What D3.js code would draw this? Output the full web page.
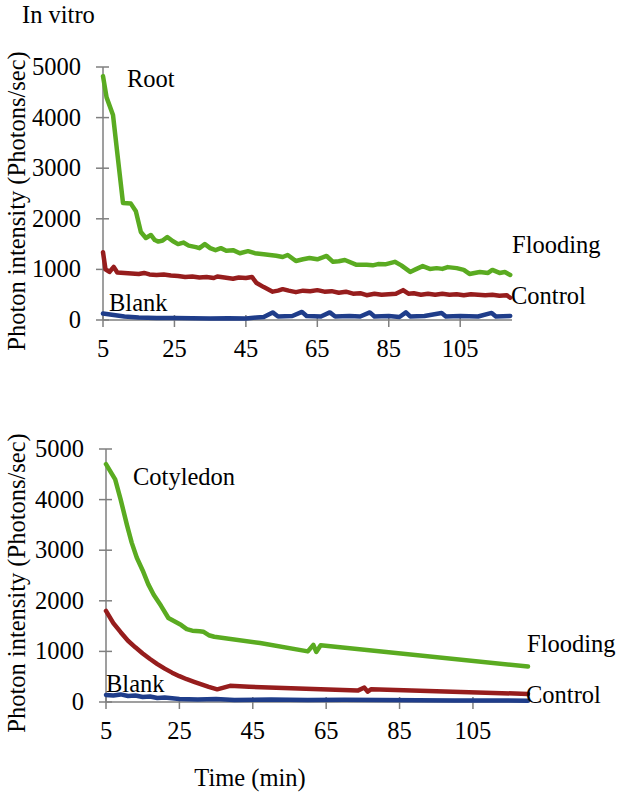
<!DOCTYPE html>
<html>
<head>
<meta charset="utf-8">
<script src="https://cdn.jsdelivr.net/npm/d3@7"></script>
<style>
  html, body { margin: 0; padding: 0; background: #fff; }
</style>
</head>
<body>
<svg id="chart" width="623" height="797"></svg>
<script>
// ---------- DATA ----------
const xTicks = [5, 25, 45, 65, 85, 105];
const yTicks = [0, 1000, 2000, 3000, 4000, 5000];
const seriesNames = ["Flooding", "Control", "Blank"];

// Root panel: [time (min), photons/sec]
const rootFlooding = [[5,4820],[6,4400],[7.8,4050],[9,3300],[10.6,2310],[12.8,2300],[14.2,2150],[15.6,1740],[17,1620],[18.4,1680],[19.5,1580],[20.5,1550],[21.7,1570],[23,1640],[24.5,1560],[26,1500],[27.5,1530],[29,1470],[31,1440],[32,1420],[33.5,1500],[35,1420],[36.5,1380],[38,1420],[39.5,1370],[41.4,1380],[43.3,1320],[45.6,1360],[47.5,1320],[50,1300],[51.7,1285],[53.5,1270],[55.3,1245],[56.7,1285],[59,1165],[61,1200],[62.8,1225],[65,1200],[67.6,1265],[69.4,1150],[71,1160],[72.7,1185],[76,1090],[78.8,1090],[80.5,1080],[82,1105],[84,1100],[86.7,1150],[88.5,1080],[91,950],[92.5,1000],[94.5,1065],[96.5,1010],[98.4,1025],[100,1010],[101.5,1045],[104,1025],[106,990],[107.6,910],[109,930],[110.5,950],[112.8,930],[114,990],[116,930],[117.5,950],[119,890]];
const rootControl = [[5,1340],[5.7,1000],[6.8,950],[8,1050],[9,940],[11,930],[13,920],[15,910],[16.5,930],[18,900],[20,890],[22,900],[24,880],[26,870],[28,850],[30,860],[32,840],[34,850],[36,830],[37,860],[39,840],[41.4,815],[43,840],[45,830],[46.7,850],[48,730],[50,650],[52.5,560],[54,580],[55.3,610],[57,580],[59,550],[61,580],[63,570],[65,590],[67,560],[69,570],[71,540],[73,560],[75,520],[77,530],[78.8,490],[81,520],[83,500],[85,510],[87,520],[89,590],[90.5,520],[92,530],[94,500],[96,520],[98,500],[100,520],[102,500],[104,510],[106,490],[108,510],[110,500],[112,490],[114,500],[116,480],[118,490],[119,440]];
const rootBlank = [[5,130],[7,110],[9,90],[11,70],[13,60],[15,50],[20,40],[25,40],[30,35],[35,30],[40,35],[45,30],[48,50],[50,60],[52.5,150],[54,70],[58,80],[60.7,160],[62,80],[66,70],[68.5,150],[70,70],[74,80],[77,70],[79.7,150],[81,70],[85,80],[88,60],[89.8,150],[91,70],[95,80],[99.8,140],[101,70],[105,80],[110,70],[113.8,140],[115,70],[119,80]];

// Cotyledon panel
const cotFlooding = [[5,4700],[7.5,4400],[9,4000],[10.7,3500],[12,3150],[13.4,2850],[15,2600],[16.5,2330],[18,2120],[20,1900],[22,1660],[24,1580],[25.5,1520],[27,1440],[28.5,1410],[30.5,1400],[31.5,1390],[33,1320],[34.5,1290],[47,1165],[60,1000],[61.5,1130],[62.3,990],[63.5,1120],[120,700]];
const cotControl = [[5,1800],[7,1560],[9,1380],[11,1210],[13,1080],[15,960],[17,850],[19,750],[21,660],[23,580],[25,510],[27,450],[29,400],[31,350],[33,300],[35.3,250],[38.8,320],[44,300],[73.6,225],[75.4,285],[76.3,205],[77.2,250],[120,160]];
const cotBlank = [[5,140],[7,130],[9,150],[11,120],[13,130],[15,100],[17,110],[19,80],[21,90],[25,60],[30,50],[35,60],[40,40],[50,50],[60,40],[70,45],[80,40],[90,35],[100,30],[110,30],[120,25]];

const colors = { Flooding: "#5aab21", Control: "#961d1d", Blank: "#1f3d8a" };

// ---------- DRAW ----------
const svg = d3.select("#chart");
const FONT = 24.5;
const FAM = "Liberation Serif";

function addText(parent, x, y, s, anchor) {
  return parent.append("text").attr("x", x).attr("y", y)
    .attr("font-size", FONT).attr("font-family", FAM)
    .attr("text-anchor", anchor || "start").attr("fill", "#000").text(s);
}

addText(svg, 22, 23, "In vitro");

function panel(cfg) {
  const x = d3.scaleLinear().domain(cfg.xDomain).range([cfg.left, cfg.right]);
  const y = d3.scaleLinear().domain([0, 5000]).range([cfg.bottom, cfg.top]);
  const g = svg.append("g");

  // axis lines
  g.append("line").attr("x1", cfg.left).attr("x2", cfg.left)
    .attr("y1", y(5000)).attr("y2", y(0)).attr("stroke", "#7f7f7f").attr("stroke-width", 1.5);
  g.append("line").attr("x1", cfg.left).attr("x2", cfg.right)
    .attr("y1", y(0)).attr("y2", y(0)).attr("stroke", "#7f7f7f").attr("stroke-width", 1.5);

  // y ticks (crossing) + labels
  yTicks.forEach(v => {
    g.append("line").attr("x1", cfg.left - 7).attr("x2", cfg.left + 6)
      .attr("y1", y(v)).attr("y2", y(v)).attr("stroke", "#7f7f7f").attr("stroke-width", 1.5);
    addText(g, cfg.left - 22, y(v) + 8, String(v), "end");
  });

  // x ticks + labels
  xTicks.forEach(v => {
    g.append("line").attr("x1", x(v)).attr("x2", x(v))
      .attr("y1", cfg.bottom - 5).attr("y2", cfg.bottom + 7)
      .attr("stroke", "#7f7f7f").attr("stroke-width", 1.5);
    addText(g, x(v), cfg.bottom + 37, String(v), "middle");
  });

  // y title
  addText(g, 0, 0, "Photon intensity (Photons/sec)", "middle")
    .attr("transform", `translate(25,${cfg.titleY}) rotate(-90)`);

  // lines
  const line = d3.line().x(d => x(d[0])).y(d => y(d[1]));
  [2, 1, 0].forEach(i => {
    g.append("path").datum(cfg.series[i]).attr("d", line)
      .attr("fill", "none").attr("stroke", colors[seriesNames[i]])
      .attr("stroke-width", 4.5).attr("stroke-linejoin", "round").attr("stroke-linecap", "round");
  });

  // labels
  cfg.labels.forEach(l => addText(g, l.x, l.y, l.t));
}

panel({
  xDomain: [5, 119.5], left: 103, right: 512, top: 67, bottom: 320, titleY: 201,
  series: [rootFlooding, rootControl, rootBlank],
  labels: [
    { t: "Root", x: 127, y: 87 },
    { t: "Flooding", x: 512, y: 253 },
    { t: "Control", x: 511, y: 304 },
    { t: "Blank", x: 109, y: 311 }
  ]
});

panel({
  xDomain: [5, 120], left: 106, right: 528, top: 449, bottom: 702, titleY: 583,
  series: [cotFlooding, cotControl, cotBlank],
  labels: [
    { t: "Cotyledon", x: 133, y: 485 },
    { t: "Flooding", x: 527, y: 652 },
    { t: "Control", x: 526, y: 703 },
    { t: "Blank", x: 106, y: 692 }
  ]
});

addText(svg, 250, 786, "Time (min)", "middle");
</script>
</body>
</html>
